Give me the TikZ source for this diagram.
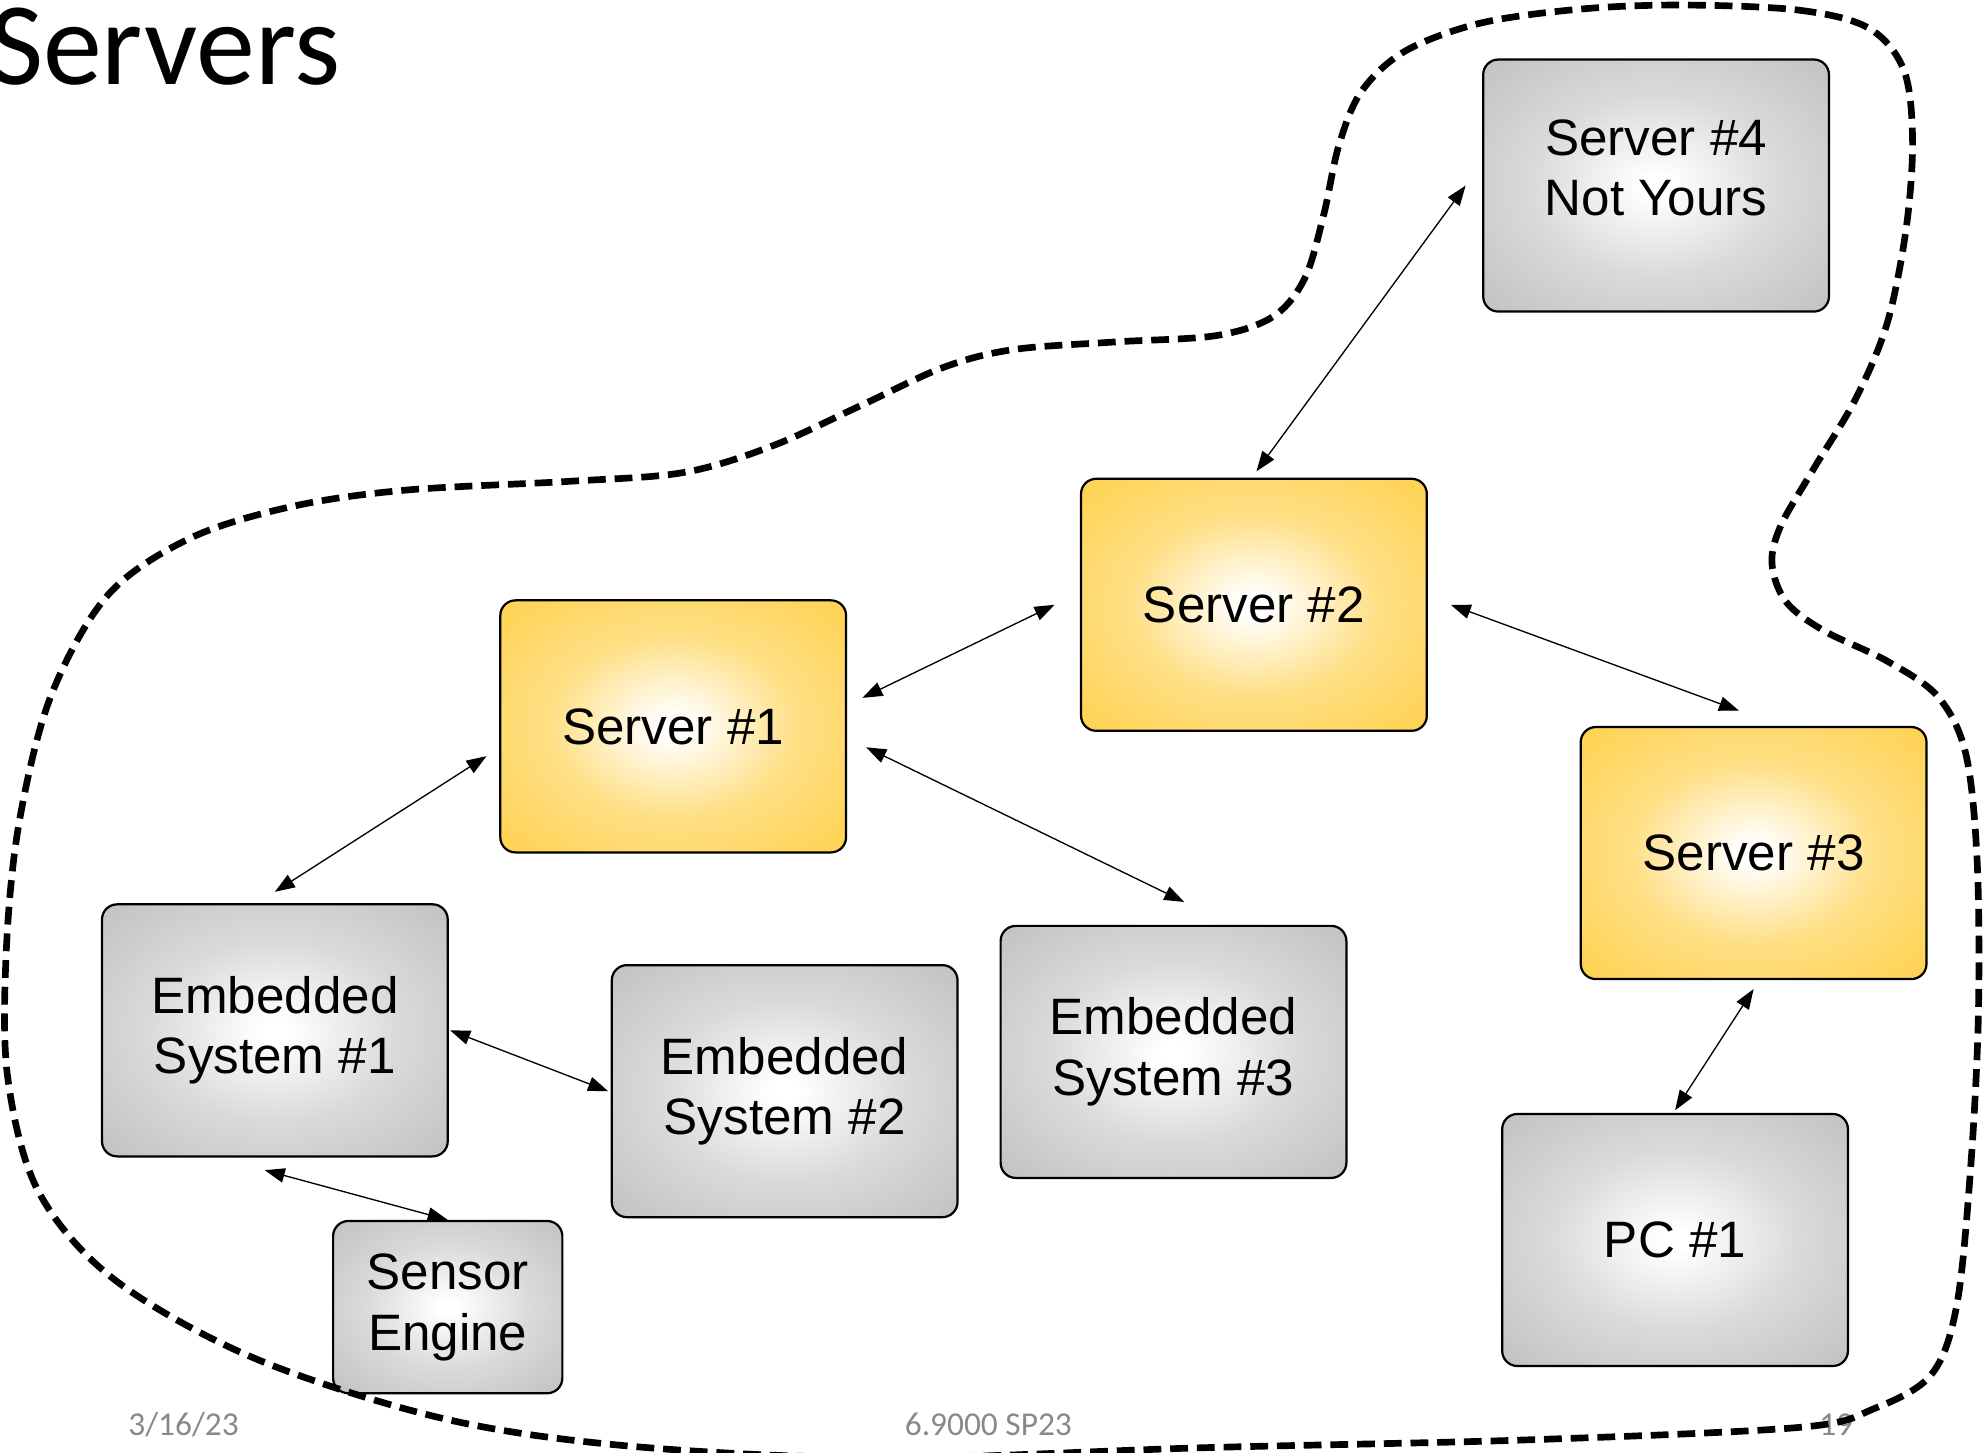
\documentclass[tikz,border=0pt]{standalone}
\usepackage{fontspec}
\setsansfont{Liberation Sans}
\newfontfamily\slidefont{Carlito}
\usetikzlibrary{arrows.meta,positioning}

\definecolor{srvgold}{RGB}{255,194,20}
\definecolor{boxgray}{RGB}{162,162,162}
\definecolor{footgray}{RGB}{137,137,137}
% glow from the middle of each box out to its corners
\pgfdeclareradialshading{goldglow}{\pgfpoint{0bp}{0bp}}{color(0bp)=(white); color(2bp)=(white); color(18bp)=(srvgold!52!white); color(54bp)=(srvgold); color(100bp)=(srvgold)}
\pgfdeclareradialshading{grayglow}{\pgfpoint{0bp}{0bp}}{color(0bp)=(white); color(2bp)=(white); color(18bp)=(boxgray!40!white); color(58bp)=(boxgray); color(100bp)=(boxgray)}

\begin{document}
\begin{tikzpicture}[<->,>={Triangle[length=9pt,width=6.5pt]},line width=0.6pt,on grid,
  server node/.style={-,draw,line width=1pt,rounded corners=0.24cm,shading=goldglow,minimum width=5.46cm,minimum height=3.98cm,inner sep=0pt,align=center,font=\sffamily\fontsize{23}{27.3}\selectfont},
  device node/.style={server node,shading=grayglow},
  sensor node/.style={device node,minimum width=3.62cm,minimum height=2.72cm}]

  \useasboundingbox (0,0) rectangle (31.36,22.94);

  \node[anchor=base east,font=\slidefont\fontsize{53}{53}\selectfont] (title) at (5.5,21.6) {Servers};

  \node[server node] (S1) at (10.63,11.47) {Server \#1};
  \node[server node] (S2) [above right=1.92cm and 9.17cm of S1] {Server \#2};
  \node[device node,text depth=16pt] (S4) [above right=6.62cm and 6.35cm of S2] {Server \#4\\Not Yours};
  \node[server node] (S3) [below right=3.92cm and 7.89cm of S2] {Server \#3};
  \node[device node] (PC) [below left=6.11cm and 1.24cm of S3] {PC \#1};
  \node[device node] (E3) [below right=5.14cm and 7.9cm of S1] {Embedded\\System \#3};
  \node[device node] (E1) [below left=4.8cm and 6.29cm of S1] {Embedded\\System \#1};
  \node[device node] (E2) [below right=0.96cm and 8.05cm of E1] {Embedded\\System \#2};
  \node[sensor node] (SE) [below right=4.37cm and 2.73cm of E1] {Sensor\\Engine};

  % footer
  \path[every node/.style={anchor=base west,text=footgray,font=\slidefont\fontsize{15}{18}\selectfont}]
    (1.9,0.28) node (date) {3/16/23}
    (14.16,0.28) node (course) {6.9000 SP23}
    (28.6,0.28) node (page) {19};

  \path
    ([xshift=-0.26cm]S4.west) edge ([xshift=0.04cm,yshift=0.1cm]S2.north)
    ([xshift=0.36cm]S2.east) edge ([xshift=-0.23cm,yshift=0.24cm]S3.north)
    ([xshift=0.24cm,yshift=0.45cm]S1.east) edge ([xshift=-0.4cm]S2.west)
    ([xshift=0.3cm,yshift=-0.33cm]S1.east) edge ([xshift=0.17cm,yshift=0.36cm]E3.north)
    ([xshift=-0.2cm,yshift=-0.47cm]S1.west) edge ([yshift=0.18cm]E1.north)
    ([xshift=0.02cm]E1.east) edge ([xshift=-0.04cm]E2.west)
    ([xshift=-0.16cm,yshift=-0.2cm]E1.south) edge (SE.north)
    ([yshift=-0.14cm]S3.south) edge ([yshift=0.04cm]PC.north);

  % what we own
  \draw[-,line width=3pt,dash pattern=on 8pt off 4pt] plot[smooth cycle,tension=0.55] coordinates {
    (26.6,22.86) (28.4,22.78) (29.5,22.5) (30.06,21.84) (30.2,20.74) (30.1,19.34)
    (29.8,17.84) (29.3,16.64) (28.64,15.54) (28.12,14.64) (27.98,14.04) (28.2,13.44)
    (28.8,12.98) (29.8,12.5) (30.6,11.94) (31.04,11.04) (31.22,9.34) (31.24,6.94)
    (31.12,4.54) (30.9,2.34) (30.5,1.24) (29.6,0.7) (28.4,0.4) (24.0,0.2)
    (19.0,0.08) (14.0,-0.08) (10.0,0.1) (7.0,0.54) (4.0,1.5) (1.8,2.74)
    (0.6,4.14) (0.12,5.94) (0.1,7.94) (0.3,9.94) (0.8,11.94) (1.7,13.54)
    (3.0,14.44) (4.6,14.94) (6.4,15.2) (9.0,15.34) (10.8,15.48) (12.2,15.9)
    (13.6,16.54) (14.9,17.14) (16.0,17.42) (17.6,17.54) (19.2,17.64) (20.1,17.94)
    (20.6,18.54) (20.9,19.54) (21.14,20.64) (21.5,21.5) (22.2,22.14) (23.4,22.58)
    (25.0,22.8)};
\end{tikzpicture}
\end{document}
